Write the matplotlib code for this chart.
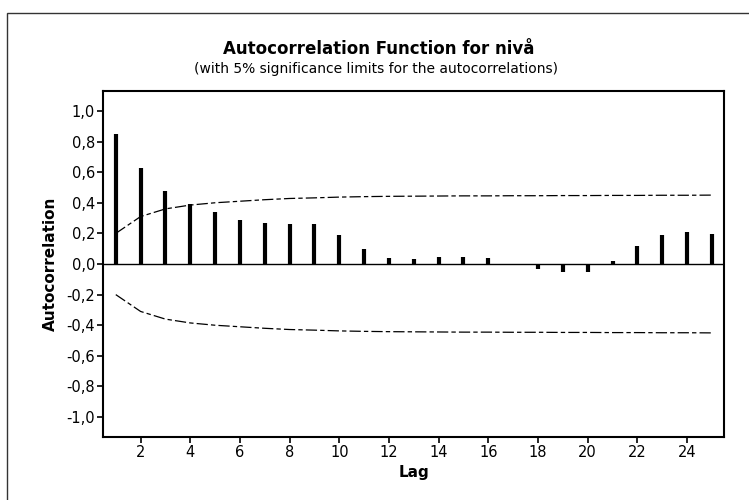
import matplotlib.pyplot as plt
from matplotlib.patches import Rectangle

# ACF-verdier lest av figuren
lags = list(range(1, 26))
acf = [0.85, 0.63, 0.48, 0.39, 0.34, 0.29, 0.265, 0.26, 0.26, 0.19,
       0.10, 0.04, 0.03, 0.048, 0.048, 0.04, 0.003, -0.035, -0.05, -0.05,
       0.017, 0.115, 0.19, 0.21, 0.195]
# 5% signifikansgrenser (øvre), nedre = minus
limit = [0.20, 0.31, 0.36, 0.385, 0.40, 0.41, 0.42, 0.428, 0.432, 0.437,
         0.44, 0.442, 0.443, 0.444, 0.445, 0.445, 0.446, 0.446, 0.447, 0.447,
         0.448, 0.448, 0.449, 0.449, 0.45]
yticks = [-1.0, -0.8, -0.6, -0.4, -0.2, 0.0, 0.2, 0.4, 0.6, 0.8, 1.0]
ytick_labels = ['-1,0', '-0,8', '-0,6', '-0,4', '-0,2', '0,0', '0,2', '0,4', '0,6', '0,8', '1,0']
xticks = [2, 4, 6, 8, 10, 12, 14, 16, 18, 20, 22, 24]

plt.rcParams['font.family'] = ['DejaVu Sans']

fig = plt.figure(figsize=(7.49, 5.0), dpi=100)
ax = fig.add_axes([0.138, 0.126, 0.829, 0.692])

# ramme rundt figuren
fig.patches.append(Rectangle((0.010, -0.05), 1.2, 1.024, transform=fig.transFigure,
                             fill=False, edgecolor='#333333', linewidth=1.0))

ax.axhline(0, color='black', linewidth=1.0)
ax.vlines(lags, 0, acf, colors='black', linewidth=3.0)

dash = (0, (9, 2.5, 3.5, 2.5))
ax.plot(lags, limit, color='black', linewidth=0.9, linestyle=dash)
ax.plot(lags, [-v for v in limit], color='black', linewidth=0.9, linestyle=dash)

ax.set_xlim(0.5, 25.5)
ax.set_ylim(-1.13, 1.13)
ax.set_yticks(yticks)
ax.set_yticklabels(ytick_labels)
ax.set_xticks(xticks)
ax.tick_params(direction='out', length=4, width=1.2, labelsize=10.5, pad=2)
for s in ax.spines.values():
    s.set_linewidth(1.5)

ax.set_xlabel('Lag', fontsize=11, fontweight='bold', labelpad=3)
ax.set_ylabel('Autocorrelation', fontsize=11, fontweight='bold', labelpad=6)

fig.text(0.505, 0.902, 'Autocorrelation Function for nivå', ha='center', va='center',
         fontsize=12, fontweight='bold')
fig.text(0.502, 0.862, '(with 5% significance limits for the autocorrelations)',
         ha='center', va='center', fontsize=10)

fig.savefig('out.png', dpi=100)
